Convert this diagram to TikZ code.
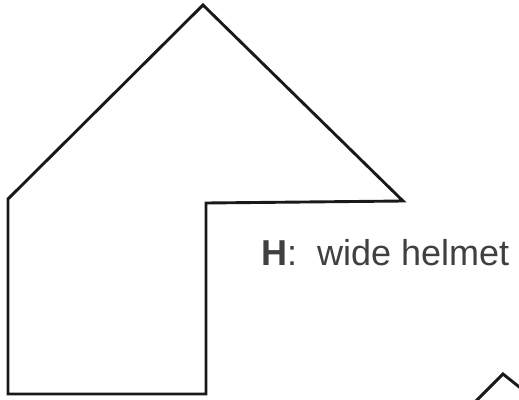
\documentclass[tikz,border=0pt]{standalone}
\usepackage{fontspec}
\setmainfont{Liberation Sans}
\usepackage{xcolor}
\usepackage{tikz}
\usetikzlibrary{arrows.meta,positioning,calc}

\begin{document}
\begin{tikzpicture}[x=1pt, y=-1pt, every node/.style={font=\fontsize{36}{40}\selectfont},
    outline/.style={line width=2.9pt, black!90, line join=miter}]
    \useasboundingbox (0,0) rectangle (519,399);
    \clip (0,0) rectangle (519,399);

    % Helmet outline
    \coordinate (apex) at (203,5);
    \coordinate (tip) at (403,201);
    \coordinate (inner) at (206,203);
    \coordinate (lowright) at (206,394);
    \coordinate (lowleft) at (8,394);
    \coordinate (shoulder) at (8,199);
    \draw[outline] (apex) -- (tip) -- (inner) -- (lowright) -- (lowleft) -- (shoulder) -- cycle;

    % Label
    \node[anchor=base west, inner sep=0pt, text=black!75] (label) at (261,265)
        {\textbf{H}:\ \ wide helmet};

    % Next helmet, cut off at the corner
    \coordinate (apex2) at (503,374);
    \draw[outline] ($(apex2)+(-30,30)$) -- (apex2) -- ($(apex2)+(30,24)$);
\end{tikzpicture}
\end{document}
